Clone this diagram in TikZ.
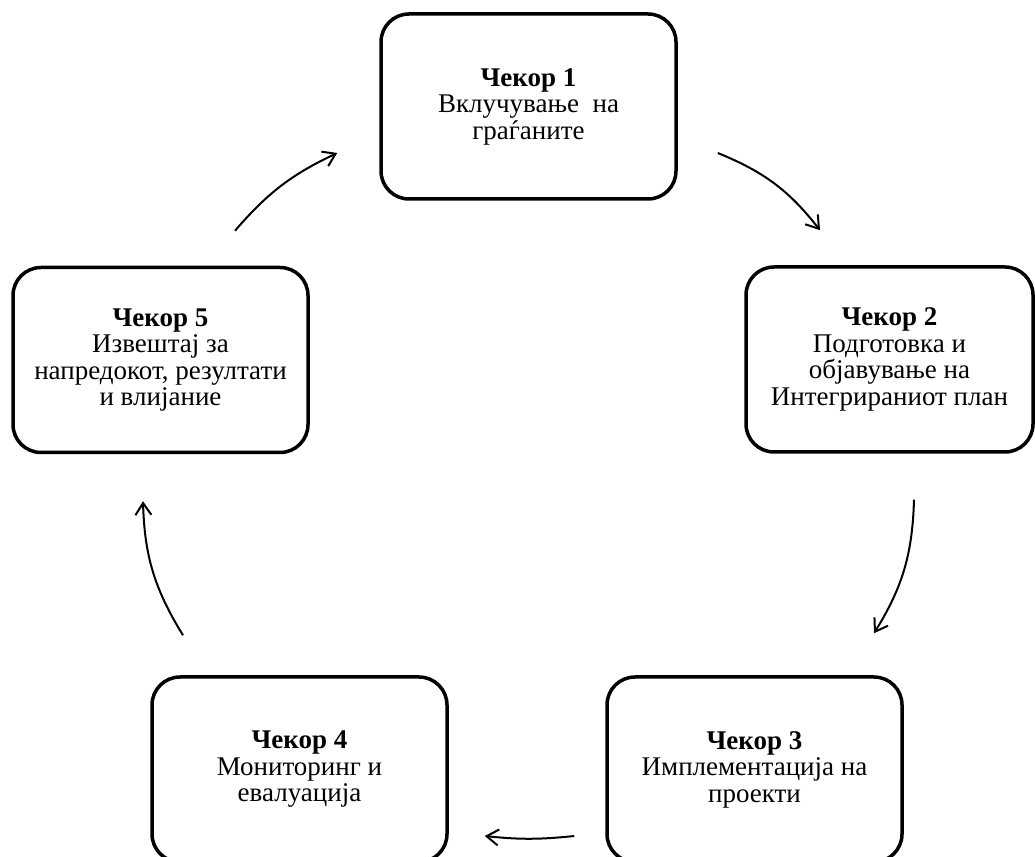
\documentclass[tikz,border=0pt]{standalone}
\usepackage{fontspec}
\setmainfont{Liberation Serif}
\usetikzlibrary{arrows.meta}

\begin{document}
\begin{tikzpicture}[x=1pt, y=1pt,
    stepbox/.style={draw, line width=3.5pt, rounded corners=28pt, align=center,
      minimum width=295pt, minimum height=185pt, inner sep=0pt,
      font=\fontsize{27}{26.5}\selectfont},
    cycarrow/.style={line width=2pt, bend left=15,
      -{Straight Barb[length=12pt, width=16pt]}}]
  % page frame; the bottom boxes run off the page
  \clip (0,0) rectangle (1035,856);
  \useasboundingbox (0,0) rectangle (1035,856);
  % the five steps
  \node[stepbox] (s1) at (528.5,749.5) {\textbf{Чекор 1}\\Вклучување\ \ на\\граѓаните};
  \node[stepbox, minimum width=287pt] (s2) at (889.5,496.5) {\textbf{Чекор 2}\\Подготовка и\\објавување на\\Интегрираниот план};
  \node[stepbox] (s3) at (754.5,86.5) {\textbf{Чекор 3}\\Имплементација на\\проекти};
  \node[stepbox] (s4) at (299.5,86.5) {\textbf{Чекор 4}\\Мониторинг и\\евалуација};
  \node[stepbox] (s5) at (160.5,496) {\textbf{Чекор 5}\\Извештај за\\напредокот, резултати\\и влијание};
  % arrow ends, set off from the boxes
  \coordinate (a1s) at ([shift={(40,-46.5)}]s1.east);
  \coordinate (a1e) at ([shift={(-69.5,35)}]s2.north);
  \coordinate (a2s) at ([shift={(24.5,-46)}]s2.south);
  \coordinate (a2e) at ([shift={(119.5,42)}]s3.north);
  \coordinate (a3s) at ([shift={(-31,-66.5)}]s3.west);
  \coordinate (a3e) at ([shift={(36,-66.5)}]s4.east);
  \coordinate (a4s) at ([shift={(-116.5,40)}]s4.north);
  \coordinate (a4e) at ([shift={(-17.5,-47)}]s5.south);
  \coordinate (a5s) at ([shift={(74.5,35)}]s5.north);
  \coordinate (a5e) at ([shift={(-42,-46.5)}]s1.west);
  \draw[cycarrow] (a1s) to (a1e);
  \draw[cycarrow] (a2s) to (a2e);
  \draw[cycarrow, bend left=6] (a3s) to (a3e);
  \draw[cycarrow] (a4s) to (a4e);
  \draw[cycarrow, bend left=12] (a5s) to (a5e);
\end{tikzpicture}
\end{document}
